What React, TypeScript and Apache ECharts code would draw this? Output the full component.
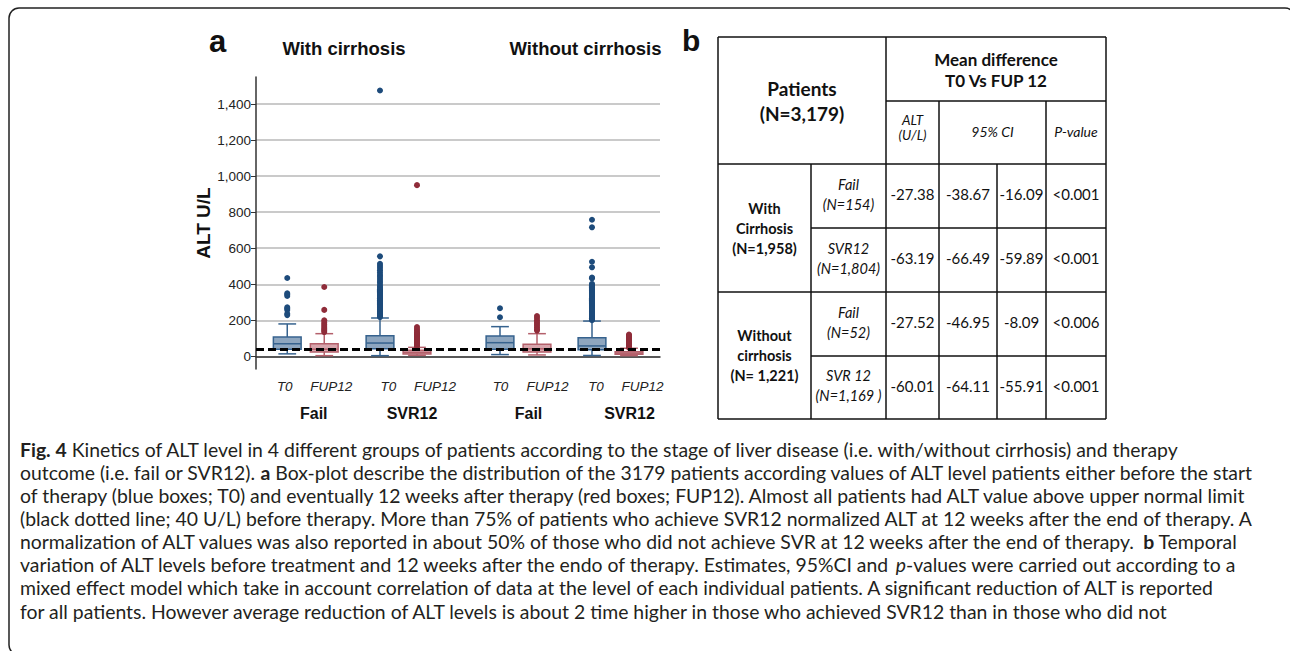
import React, { useEffect, useRef } from 'react';
import * as echarts from 'echarts';

// ---------- data ----------
const panelTitles = ['With cirrhosis', 'Without cirrhosis'];
const timepoints = ['T0', 'FUP12'];
const outcomeLabels = ['Fail', 'SVR12', 'Fail', 'SVR12'];
const yTicks = [0, 200, 400, 600, 800, 1000, 1200, 1400];
const ulnALT = 40;

// [low whisker, Q1, median, Q3, high whisker] for T0 and FUP12
const cirrFailBoxes = [[14, 40, 70, 107, 180], [4, 24, 40, 70, 126]];
const cirrSvrBoxes = [[4, 43, 74, 115, 213], [6, 13, 22, 34, 50]];
const noCirrFailBoxes = [[10, 40, 76, 113, 165], [8, 24, 42, 68, 126]];
const noCirrSvrBoxes = [[5, 37, 58, 104, 196], [4, 12, 18, 26, 45]];

// outliers
const cirrFailT0Out = [229, 236, 258, 265, 272, 335, 343, 350, 435];
const cirrFailFupOut = [135, 142, 150, 158, 168, 178, 188, 200, 258, 385];
const cirrSvrT0Out = [218, 224, 229, 236, 241, 247, 252, 259, 263, 270, 276, 281, 288, 293, 299, 305, 312, 318, 323, 330, 336, 341, 348, 355, 361, 367, 372, 379, 386, 396, 408, 418, 430, 442, 452, 465, 478, 490, 502, 514, 555, 1475];
const cirrSvrFupOut = [55, 60, 64, 69, 73, 78, 83, 87, 92, 96, 101, 106, 110, 115, 120, 124, 129, 134, 143, 152, 163, 950];
const noCirrFailT0Out = [217, 267];
const noCirrFailFupOut = [143, 150, 160, 170, 180, 190, 200, 213, 224];
const noCirrSvrT0Out = [201, 207, 212, 218, 224, 229, 235, 241, 247, 252, 258, 264, 270, 276, 281, 287, 293, 299, 305, 311, 317, 323, 329, 335, 341, 347, 353, 359, 365, 371, 377, 383, 389, 395, 402, 433, 437, 494, 525, 716, 758];
const noCirrSvrFupOut = [48, 53, 58, 63, 67, 72, 77, 82, 86, 91, 96, 101, 106, 111, 116, 121];

const groupBoxes = [cirrFailBoxes, cirrSvrBoxes, noCirrFailBoxes, noCirrSvrBoxes];
const groupOutliers = [
  [cirrFailT0Out, cirrFailFupOut],
  [cirrSvrT0Out, cirrSvrFupOut],
  [noCirrFailT0Out, noCirrFailFupOut],
  [noCirrSvrT0Out, noCirrSvrFupOut],
];

// table b
const tablePatients = 'Patients\n(N=3,179)';
const tableMeanHeader = 'Mean difference\nT0 Vs FUP 12';
const tableSubHeaders = ['ALT\n(U/L)', '95% CI', 'P-value'];
const tableGroups = ['With\nCirrhosis\n(N=1,958)', 'Without\ncirrhosis\n(N= 1,221)'];
const tableOutcomes = ['Fail\n(N=154)', 'SVR12\n(N=1,804)', 'Fail\n(N=52)', 'SVR 12\n(N=1,169 )'];
const altDiff = ['-27.38', '-63.19', '-27.52', '-60.01'];
const ciLow = ['-38.67', '-66.49', '-46.95', '-64.11'];
const ciHigh = ['-16.09', '-59.89', '-8.09', '-55.91'];
const pValues = ['<0.001', '<0.001', '<0.006', '<0.001'];

// caption
const captionLines = [
  '{b|Fig. 4} Kinetics of ALT level in 4 different groups of patients according to the stage of liver disease (i.e. with/without cirrhosis) and therapy',
  'outcome (i.e. fail or SVR12). {b|a} Box-plot describe the distribution of the 3179 patients according values of ALT level patients either before the start',
  'of therapy (blue boxes; T0) and eventually 12 weeks after therapy (red boxes; FUP12). Almost all patients had ALT value above upper normal limit',
  '(black dotted line; 40 U/L) before therapy. More than 75% of patients who achieve SVR12 normalized ALT at 12 weeks after the end of therapy. A',
  'normalization of ALT values was also reported in about 50% of those who did not achieve SVR at 12 weeks after the end of therapy. {b|b} Temporal',
  'variation of ALT levels before treatment and 12 weeks after the endo of therapy. Estimates, 95%CI and {i|p}-values were carried out according to a',
  'mixed effect model which take in account correlation of data at the level of each individual patients. A significant reduction of ALT is reported',
  'for all patients. However average reduction of ALT levels is about 2 time higher in those who achieved SVR12 than in those who did not',
];

// ---------- styles / layout ----------
const AX_FONT = 'Liberation Sans, Arial, sans-serif';
const TB_FONT = 'Lato, sans-serif';
const CAP_FONT = 'Lato, sans-serif';
const CAP_SIZE = 19.4;
const palettes = [
  { fill: '#8ea6bf', stroke: '#36628e', dot: '#1d4b7b' },
  { fill: '#d7a5ac', stroke: '#b4606b', dot: '#8f2c39' },
];

export default function App() {
  const ref = useRef<HTMLDivElement>(null);

  useEffect(() => {
    if (!ref.current) return;
    const chart = echarts.init(ref.current, undefined, { renderer: 'svg' });

    const plotTop = 77;
    const plotH = 292;
    const subLefts = [268.75, 361.5, 481.5, 573.5];
    const subW = 74;
    const nameShift = [16, 27, 20, 38];
    const labelShift = [[-2.5, 7], [8.5, 18], [0.5, 10.5], [4, 13.5]];

    const grids: any[] = [{ left: 256, top: plotTop, width: 404, height: plotH }];
    const xAxes: any[] = [{
      type: 'value', gridIndex: 0, min: 0, max: 1,
      axisLine: { show: true, lineStyle: { color: '#333', width: 1.5 } },
      axisTick: { show: false }, axisLabel: { show: false }, splitLine: { show: false },
    }];
    const yAxes: any[] = [{
      type: 'value', gridIndex: 0, min: -70, max: 1550,
      name: 'ALT U/L', nameLocation: 'middle', nameGap: 37,
      nameTextStyle: { fontFamily: AX_FONT, fontWeight: 'bold', fontSize: 19, color: '#111' },
      axisLine: { show: true, lineStyle: { color: '#333', width: 1.5 } },
      axisTick: { show: true, length: 5, customValues: yTicks, lineStyle: { color: '#333' } },
      axisLabel: {
        customValues: yTicks, margin: 5, fontFamily: AX_FONT, fontSize: 13.5, color: '#222',
        formatter: (v: number) => v.toLocaleString('en-US'),
      },
      splitLine: { show: true, lineStyle: { color: '#b8b8b8', width: 1.5 } },
    }];
    const series: any[] = [{
      type: 'line', xAxisIndex: 0, yAxisIndex: 0, data: [], z: 10,
      markLine: {
        silent: true, symbol: ['none', 'none'], label: { show: false }, z: 10,
        lineStyle: { color: '#000', width: 3, type: [8, 4] },
        data: [{ yAxis: ulnALT }],
      },
    }];

    const tickFont = { fontFamily: AX_FONT, fontStyle: 'italic', fontSize: 13.5, color: '#222' };
    groupBoxes.forEach((boxes, g) => {
      const gi = g + 1;
      const sh = labelShift[g];
      const pad = (d: number) => [0, Math.max(0, -2 * d), 0, Math.max(0, 2 * d)];
      grids.push({ left: subLefts[g], top: plotTop, width: subW, height: plotH });
      xAxes.push({
        type: 'category', gridIndex: gi, data: timepoints,
        axisLine: { show: false }, axisTick: { show: false },
        axisLabel: {
          interval: 0, margin: 10, ...tickFont,
          formatter: (v: string, i: number) => `{l${i}|${v}}`,
          rich: { l0: { ...tickFont, padding: pad(sh[0]) }, l1: { ...tickFont, padding: pad(sh[1]) } },
        },
        name: outcomeLabels[g], nameLocation: 'middle', nameGap: 36,
        nameTextStyle: {
          fontFamily: AX_FONT, fontWeight: 'bold', fontSize: 16, color: '#111',
          padding: [0, 0, 0, nameShift[g]],
        },
      });
      yAxes.push({ type: 'value', gridIndex: gi, min: -70, max: 1550, show: false, splitLine: { show: false } });
      series.push({
        type: 'custom', xAxisIndex: gi, yAxisIndex: gi,
        data: boxes.map((b, i) => [i, ...b]),
        encode: { x: 0, y: [1, 2, 3, 4, 5] },
        renderItem: (params: any, api: any) => {
          const i = api.value(0);
          const p = palettes[i];
          const yv = [1, 2, 3, 4, 5].map((k) => api.coord([i, api.value(k)])[1]);
          const cx = api.coord([i, 0])[0];
          const band = api.size([1, 0])[0];
          const bw = band * 0.75;
          const cw = band * 0.48;
          const ls = { stroke: p.stroke, lineWidth: 1.5 };
          return {
            type: 'group',
            children: [
              { type: 'line', shape: { x1: cx, y1: yv[0], x2: cx, y2: yv[1] }, style: ls },
              { type: 'line', shape: { x1: cx, y1: yv[3], x2: cx, y2: yv[4] }, style: ls },
              { type: 'line', shape: { x1: cx - cw / 2, y1: yv[0], x2: cx + cw / 2, y2: yv[0] }, style: ls },
              { type: 'line', shape: { x1: cx - cw / 2, y1: yv[4], x2: cx + cw / 2, y2: yv[4] }, style: ls },
              { type: 'rect', shape: { x: cx - bw / 2, y: yv[3], width: bw, height: yv[1] - yv[3] }, style: { fill: p.fill, stroke: p.stroke, lineWidth: 1.5 } },
              { type: 'line', shape: { x1: cx - bw / 2, y1: yv[2], x2: cx + bw / 2, y2: yv[2] }, style: ls },
            ],
          };
        },
      });
      groupOutliers[g].forEach((outs, t) => {
        series.push({
          type: 'scatter', xAxisIndex: gi, yAxisIndex: gi, symbolSize: 6,
          itemStyle: { color: palettes[t].dot, opacity: 1 },
          data: outs.map((v) => [t, v]),
        });
      });
    });

    // ---------- graphic: letters, headings, table, caption, border ----------
    const graphic: any[] = [];
    const txt = (x: number, y: number, text: string, o: any = {}) => ({
      type: 'text', x, y, silent: true,
      style: { text, align: 'center', verticalAlign: 'middle', fill: '#111', ...o },
    });
    graphic.push({
      type: 'rect', silent: true, shape: { x: 9, y: 8, width: 1286, height: 647, r: 10 },
      style: { fill: 'none', stroke: '#222', lineWidth: 1.5 },
    });
    graphic.push(txt(209, 41.6, 'a', { align: 'left', fontFamily: AX_FONT, fontWeight: 'bold', fontSize: 31 }));
    graphic.push(txt(682, 40.6, 'b', { align: 'left', fontFamily: AX_FONT, fontWeight: 'bold', fontSize: 30 }));
    const titleX = [344, 585.5];
    panelTitles.forEach((t, i) =>
      graphic.push(txt(titleX[i], 48.6, t, { fontFamily: AX_FONT, fontWeight: 'bold', fontSize: 18.5 })));

    // table lines
    const colX = [718, 811, 886, 939, 997, 1046, 1106];
    const rowY = [37, 101, 164, 228, 292, 356, 419];
    const hLines = [[0, 0, 6], [1, 2, 6], [2, 0, 6], [3, 1, 6], [4, 0, 6], [5, 1, 6], [6, 0, 6]];
    const vLines = [[0, 0, 6], [1, 2, 6], [2, 0, 6], [3, 1, 6], [4, 2, 6], [5, 1, 6], [6, 0, 6]];
    const lineStyle = { stroke: '#111', lineWidth: 1.5 };
    hLines.forEach(([r, c1, c2]) => graphic.push({ type: 'line', silent: true, shape: { x1: colX[c1], y1: rowY[r], x2: colX[c2], y2: rowY[r] }, style: lineStyle }));
    vLines.forEach(([c, r1, r2]) => graphic.push({ type: 'line', silent: true, shape: { x1: colX[c], y1: rowY[r1], x2: colX[c], y2: rowY[r2] }, style: lineStyle }));

    const mid = (a: number, b: number) => (a + b) / 2;
    graphic.push(txt(mid(colX[0], colX[2]), 100.5, tablePatients, { fontFamily: TB_FONT, fontWeight: 'bold', fontSize: 19, lineHeight: 25 }));
    graphic.push(txt(mid(colX[2], colX[6]), 69.5, tableMeanHeader, { fontFamily: TB_FONT, fontWeight: 'bold', fontSize: 17, lineHeight: 21 }));
    graphic.push(txt(mid(colX[2], colX[3]), 127, tableSubHeaders[0], { fontFamily: TB_FONT, fontStyle: 'italic', fontSize: 13.5, lineHeight: 15 }));
    graphic.push(txt(mid(colX[3], colX[5]), 131, tableSubHeaders[1], { fontFamily: TB_FONT, fontStyle: 'italic', fontSize: 14 }));
    graphic.push(txt(mid(colX[5], colX[6]), 131, tableSubHeaders[2], { fontFamily: TB_FONT, fontStyle: 'italic', fontSize: 14 }));
    tableGroups.forEach((t, i) =>
      graphic.push(txt(mid(colX[0], colX[1]), mid(rowY[2 + 2 * i], rowY[4 + 2 * i]), t, { fontFamily: TB_FONT, fontWeight: 'bold', fontSize: 14.5, lineHeight: 20 })));
    tableOutcomes.forEach((t, i) => {
      const cy = mid(rowY[2 + i], rowY[3 + i]) - 2;
      graphic.push(txt(mid(colX[1], colX[2]), cy, t, { fontFamily: TB_FONT, fontStyle: 'italic', fontSize: 14.5, lineHeight: 20 }));
      [altDiff, ciLow, ciHigh, pValues].forEach((arr, k) =>
        graphic.push(txt(mid(colX[2 + k], colX[3 + k]), cy, arr[i], { fontFamily: TB_FONT, fontSize: 15 })));
    });

    // caption
    const capRich = {
      b: { fontFamily: CAP_FONT, fontSize: CAP_SIZE, fontWeight: 'bold', fill: '#231f20' },
      i: { fontFamily: CAP_FONT, fontSize: CAP_SIZE, fontStyle: 'italic', fill: '#231f20' },
    };
    captionLines.forEach((line, i) =>
      graphic.push({
        type: 'text', x: 20, y: 449 + i * 23.15, silent: true,
        style: { text: line, rich: capRich, align: 'left', verticalAlign: 'middle', fontFamily: CAP_FONT, fontSize: CAP_SIZE, fill: '#231f20' },
      }));

    chart.setOption({
      animation: false,
      backgroundColor: '#fff',
      grid: grids,
      xAxis: xAxes,
      yAxis: yAxes,
      series,
      graphic,
    });

    return () => chart.dispose();
  }, []);

  return <div ref={ref} style={{ position: 'absolute', left: 0, top: 0, width: 1290, height: 651 }} />;
}
